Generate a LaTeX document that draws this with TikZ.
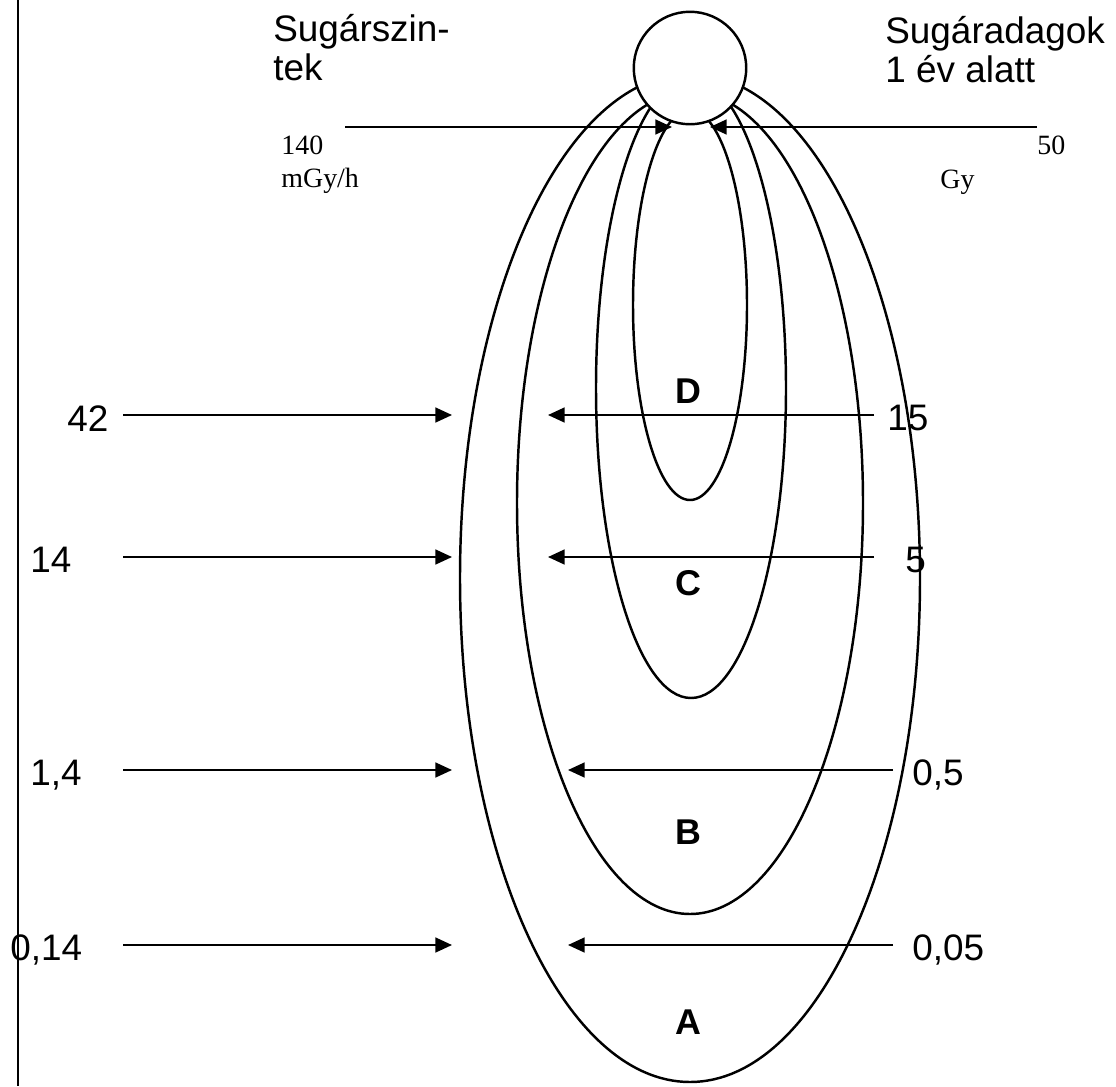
\documentclass[tikz,border=0pt]{standalone}
\usepackage{fontspec}
\setmainfont{Liberation Sans}
\newfontfamily\tnr{Liberation Serif}
\usetikzlibrary{arrows.meta}

\begin{document}
\begin{tikzpicture}[x=0.02cm, y=-0.02cm,
    font=\fontsize{21pt}{22.1pt}\selectfont,
    zone/.style={line width=1.4pt},
    dose/.style={-{Triangle[length=9.5pt,width=8.5pt]}, line width=1.1pt},
    lbl/.style={anchor=base west, inner sep=0pt},
    zlbl/.style={font=\fontsize{20.4pt}{22.1pt}\selectfont\bfseries, inner sep=0pt},
    unit/.style={font=\fontsize{15.9pt}{18.7pt}\selectfont\tnr, inner sep=0pt, align=left}]
  % 1 unit = 1 px of the original drawing
  \useasboundingbox (0,0) rectangle (1116,1086);
  \draw[line width=1.2pt] (18,0) -- (18,1086);
  % zones, outermost first
  \draw[zone] (690,578) ellipse [x radius=230, y radius=504];
  \draw[zone] (690,503) ellipse [x radius=173, y radius=411];
  \draw[zone] (691,388) ellipse [x radius=95, y radius=310];
  \draw[zone] (690,305) ellipse [x radius=57, y radius=195];
  \node[circle, draw, fill=white, line width=1.4pt, minimum size=2.25cm, inner sep=0pt] (src) at (690,68) {};
  \node[zlbl] (zd) at (688,391) {D};
  \node[zlbl] (zc) at (688,583) {C};
  \node[zlbl] (zb) at (688,832) {B};
  \node[zlbl] (za) at (688,1022) {A};
  % headings
  \node[anchor=north west, inner sep=0pt, align=left] (lvltitle) at (273,14) {Sugárszin-\\tek};
  \node[anchor=north west, inner sep=0pt, align=left] (dosetitle) at (885,16) {Sugáradagok\\1 év alatt};
  \node[unit, anchor=north west] (lvlunit) at (281,136) {140\\mGy/h};
  \node[unit, anchor=base west] (dosetop) at (1037,154) {50};
  \node[unit, anchor=base west] (doseunit) at (940,188) {Gy};
  % levels (left) and doses (right)
  \node[lbl] (lvl1) at (67,431) {42};
  \node[lbl] (lvl2) at (30,572) {14};
  \node[lbl] (lvl3) at (30,785) {1,4};
  \node[lbl] (lvl4) at (10,960) {0,14};
  \node[lbl] (dose1) at (887,430) {15};
  \node[lbl] (dose2) at (905,572) {5};
  \node[lbl] (dose3) at (912,785) {0,5};
  \node[lbl] (dose4) at (912,960) {0,05};
  % arrows
  \coordinate (l0) at (345,127);  \coordinate (l0e) at (672,127);
  \coordinate (r0) at (1037,127); \coordinate (r0e) at (710,127);
  \coordinate (l1) at (123,415);  \coordinate (l1e) at (452,415);
  \coordinate (r1) at (874,415);  \coordinate (r1e) at (548,415);
  \coordinate (l2) at (123,557);  \coordinate (l2e) at (452,557);
  \coordinate (r2) at (874,557);  \coordinate (r2e) at (548,557);
  \coordinate (l3) at (123,770);  \coordinate (l3e) at (452,770);
  \coordinate (r3) at (893,770);  \coordinate (r3e) at (568,770);
  \coordinate (l4) at (123,945);  \coordinate (l4e) at (452,945);
  \coordinate (r4) at (893,945);  \coordinate (r4e) at (568,945);
  \draw[dose] (l0) -- (l0e);
  \draw[dose] (r0) -- (r0e);
  \draw[dose] (l1) -- (l1e);
  \draw[dose] (r1) -- (r1e);
  \draw[dose] (l2) -- (l2e);
  \draw[dose] (r2) -- (r2e);
  \draw[dose] (l3) -- (l3e);
  \draw[dose] (r3) -- (r3e);
  \draw[dose] (l4) -- (l4e);
  \draw[dose] (r4) -- (r4e);
\end{tikzpicture}
\end{document}
